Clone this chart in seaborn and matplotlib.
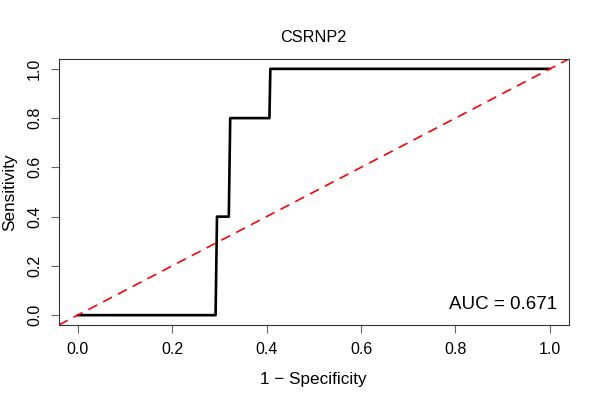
import matplotlib
matplotlib.use("Agg")
import matplotlib.pyplot as plt
import seaborn as sns
import pandas as pd

# ROC curve points
fpr = [0.0, 0.292, 0.295, 0.320, 0.323, 0.406, 0.408, 1.0]
tpr = [0.0, 0.0, 0.4, 0.4, 0.8, 0.8, 1.0, 1.0]
auc_label = "AUC = 0.671"
title = "CSRNP2"
ticks = [0.0, 0.2, 0.4, 0.6, 0.8, 1.0]

sns.set_style("ticks", {"text.color": "black", "axes.labelcolor": "black",
                        "xtick.color": "#666666", "ytick.color": "#666666"})
plt.rcParams['font.family'] = ['Liberation Sans', 'DejaVu Sans']

df = pd.DataFrame({"fpr": fpr, "tpr": tpr})

fig = plt.figure(figsize=(6, 4), dpi=100)
ax = fig.add_axes([0.098, 0.1875, 0.85, 0.665])

sns.lineplot(data=df, x="fpr", y="tpr", sort=False, color="black", linewidth=1.9, ax=ax)
ax.axline((0, 0), slope=1, color="red", linestyle=(0, (6, 4)), linewidth=1.2)

ax.set_xlim(-0.04, 1.04)
ax.set_ylim(-0.04, 1.04)
ax.set_xticks(ticks)
ax.set_yticks(ticks)
ax.set_xticklabels([f"{t:.1f}" for t in ticks], fontsize=11.5, color="black")
ax.set_yticklabels([f"{t:.1f}" for t in ticks], fontsize=11.5, rotation=90, va="center", color="black")
ax.tick_params(length=6, color="#666666", width=0.8, pad=6)

for s in ax.spines.values():
    s.set_visible(True)
    s.set_color("#333333")
    s.set_linewidth(0.8)

ax.set_xlabel("1 \u2212 Specificity", fontsize=12.3, labelpad=11)
ax.set_ylabel("Sensitivity", fontsize=12.3, labelpad=7)
ax.set_title(title, fontsize=11.7, pad=12, color="black")

ax.text(1.015, 0.045, auc_label, ha="right", va="center", fontsize=13.5, color="black")

fig.savefig("out.png", dpi=100)
plt.close(fig)
